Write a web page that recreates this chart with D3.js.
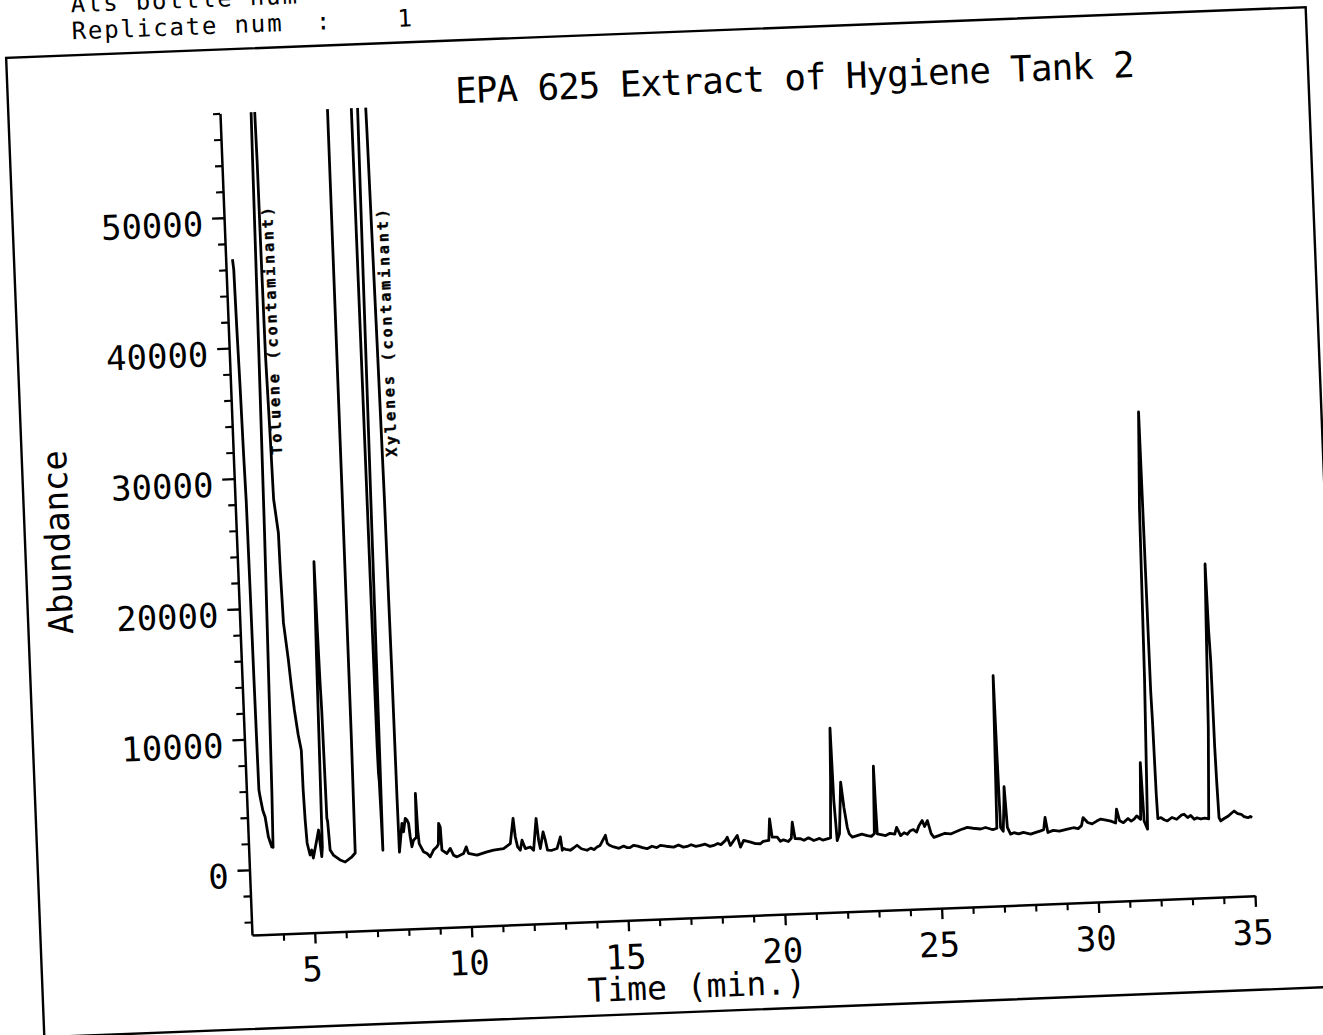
<!DOCTYPE html>
<html>
<head>
<meta charset="utf-8">
<script src="https://cdn.jsdelivr.net/npm/d3@7"></script>
<style>
html,body{margin:0;padding:0;background:#fff;overflow:hidden}
svg{display:block}
</style>
</head>
<body>
<svg id="chart" width="1323" height="1035"></svg>
<script>
// ---------------- data ----------------
const times = [
 3.217,3.245,3.27,3.30,3.33,3.355,3.37,3.38,3.39,3.40,3.43,3.50,3.565,3.645,3.74,3.78,
 3.81,3.85,3.90,3.94,3.98,4.00,4.05,4.10,4.125,4.135,4.15,4.20,4.23,4.34,4.355,4.39,4.50,4.56,4.63,4.72,4.80,4.81,4.836,4.87,4.95,
 5.01,5.05,5.18,5.25,5.32,5.35,5.40,5.437,5.46,5.48,5.50,5.53,5.55,5.595,5.69,5.90,6.06,6.28,6.39,
 6.41,6.42,6.43,6.45,7.17,7.19,7.20,7.21,7.22,7.23,7.245,7.26,7.275,7.29,7.32,7.36,7.39,7.41,7.63,7.65,7.66,7.72,7.76,7.77,7.78,7.785,7.79,7.80,
 7.915,7.955,8.026,8.08,8.125,8.162,8.204,8.263,8.36,8.38,8.41,8.44,8.567,8.68,8.774,8.888,9.00,9.05,9.082,9.13,9.156,9.311,9.423,9.519,9.625,9.84,9.935,9.995,
 10.265,10.588,10.801,11.122,11.342,11.46,11.509,11.57,11.652,11.719,11.813,11.975,12.076,12.193,12.248,12.292,12.399,12.462,12.52,12.662,12.824,12.944,12.99,
 13.034,13.1,13.246,13.35,13.466,13.6,13.778,13.9,14.0,14.101,14.2,14.381,14.43,14.5,14.63,14.8,14.95,15.057,15.15,15.27,
 15.4,15.55,15.693,15.85,16.0,16.121,16.3,16.54,16.7,16.85,16.971,17.1,17.25,17.396,17.55,17.7,17.82,17.95,18.05,18.20,
 18.26,18.35,18.579,18.67,18.78,19.0,19.15,19.311,19.4,19.58,19.63,19.69,19.852,19.95,20.05,20.2,20.30,20.349,20.42,20.592,
 20.7,20.85,21.014,21.2,21.3,21.444,21.55,21.62,21.668,21.70,21.76,21.84,21.94,22.013,22.096,22.15,22.25,22.40,22.55,22.723,
 22.85,22.95,23.003,23.024,23.044,23.31,23.45,23.60,23.667,23.785,23.9,24.0,24.10,24.2,24.3,24.381,24.49,24.56,24.655,24.76,
 24.844,25.0,25.2,25.381,25.55,25.7,25.921,26.1,26.344,26.5,26.662,26.75,26.86,26.93,26.95,26.98,27.06,27.12,27.14,27.17,
 27.196,27.29,27.4,27.55,27.7,27.93,28.1,28.25,28.35,28.408,28.48,28.65,28.85,29.107,29.3,29.45,29.56,29.619,29.76,29.9,
 30.05,30.182,30.35,30.5,30.65,30.695,30.78,30.9,31.05,31.15,31.243,31.33,31.45,31.51,31.56,31.66,31.75,31.80,31.89,31.91,
 31.93,31.95,31.98,32.00,32.10,32.2,32.30,32.45,32.6,32.75,32.84,32.95,33.05,33.16,33.25,33.37,33.5,33.62,33.72,33.78,
 33.82,33.85,33.88,33.90,33.92,33.95,34.00,34.1,34.25,34.35,34.44,34.55,34.66,34.75,34.87,34.95,35.00
];
// abundance; values above 58000 are off-scale (clipped at the top of the plot)
const abundance = [
 46800,46000,41400,37300,31700,28300,20700,14500,10000,6100,5550,4500,4000,2460,1680,1650,
 5800,14500,26000,39300,54000,60000,66000,60000,54000,46000,39250,32900,28300,25700,22650,18800,15960,14000,12100,10200,9000,5960,3650,1880,950,
 1330,710,2080,2840,790,1500,16000,23400,18000,14300,12000,3700,3500,1270,880,480,310,690,970,
 10000,30000,58000,66000,66000,58000,40000,20000,9000,7000,6400,4000,1100,8000,24900,45000,58000,66000,66000,58000,56100,40000,27900,20250,15130,10000,5000,900,
 3100,2450,3470,3340,3080,2050,1280,1780,2000,5360,2500,1500,860,720,450,960,1200,1400,2990,2700,930,660,1040,510,370,610,1110,600,
 440,660,770,870,1230,3140,1720,950,690,1450,800,910,650,3070,1400,760,2020,1380,610,590,710,1590,560,
 690,620,540,700,900,620,490,640,520,710,820,1580,960,800,660,540,700,570,560,730,
 650,520,430,600,480,640,560,470,620,440,480,600,460,520,600,420,480,620,520,830,
 1070,430,1170,270,770,620,500,470,640,700,2350,940,920,600,700,560,800,2020,750,730,
 600,780,560,700,560,640,700,5000,9110,3560,480,1000,4940,3015,1470,960,700,800,900,770,
 700,900,6070,2920,870,720,880,800,1320,670,880,760,1020,1100,900,1380,1760,1300,1740,730,
 440,560,720,650,800,940,1100,1020,940,1040,910,860,950,12650,7150,1000,700,3000,4110,2500,
 980,460,560,450,560,400,520,620,700,1630,470,620,540,670,760,680,900,1510,1120,1000,
 1200,1340,1250,1150,1000,2055,1150,1000,1300,1100,1240,1480,1200,5550,1070,430,12000,25000,32400,22000,
 11000,8700,3000,1200,1280,1100,1000,1250,1100,1400,1460,1200,1350,1050,1150,1050,1100,1030,8000,16000,
 20560,15500,13100,6500,3900,1100,840,1000,1200,1400,1560,1350,1290,1100,1010,1100,990
];
const xMajorTicks = [5, 10, 15, 20, 25, 30, 35];
const xMinorTicks = [4,6,7,8,9,11,12,13,14,16,17,18,19,21,22,23,24,26,27,28,29,31,32,33,34];
const yMajorTicks = [0, 10000, 20000, 30000, 40000, 50000];
const yMinorTicks = [-4000,-2000,2000,4000,6000,8000,12000,14000,16000,18000,22000,24000,26000,28000,
                     32000,34000,36000,38000,42000,44000,46000,48000,52000,54000,56000,58000];
const titleText = "EPA 625 Extract of Hygiene Tank 2";
const headerLines = ["Als bottle num", "Replicate num  :    1"];
const xLabel = "Time (min.)";
const yLabel = "Abundance";
const annotationLabels = ["Toluene (contaminant)", "Xylenes (contaminant)"];
const annotationTimes = [4.55, 8.21];
const annotationValues = [31700, 31200];

// ---------------- drawing ----------------
const FONT = "'DejaVu Sans Mono', 'Liberation Mono', monospace";
const svg = d3.select("#chart");
svg.append("rect").attr("width", 1323).attr("height", 1035).attr("fill", "#fff");

// the scanned sheet is tilted slightly: draw everything in a rotated frame
const g = svg.append("g").attr("transform", "translate(252,935) rotate(-2.233)");

const x = d3.scaleLinear().domain([3, 35]).range([0, 1003.8]);
const y = d3.scaleLinear().domain([-5000, 58000]).range([0, -822.2]);

svg.append("defs").append("clipPath").attr("id", "plotClip")
  .append("rect").attr("x", -3).attr("y", y(58000)).attr("width", 1012).attr("height", 900);

// outer frame of the printout
g.append("rect")
  .attr("x", -211.5).attr("y", -886).attr("width", 1300.5).attr("height", 980)
  .attr("fill", "none").attr("stroke", "#000").attr("stroke-width", 2.4);

// header lines (the first one is cut by the top edge of the scan)
headerLines.forEach((s, i) => {
  g.append("text")
    .attr("x", -145).attr("y", -929 + i * 27)
    .attr("font-family", FONT).attr("font-size", 24)
    .attr("letter-spacing", 1.85)
    .style("white-space", "pre")
    .attr("fill", "#000")
    .text(s);
});

// title
g.append("text")
  .attr("x", 236).attr("y", -823)
  .attr("font-family", FONT).attr("font-size", 36)
  .attr("textLength", 680).attr("lengthAdjust", "spacing")
  .attr("fill", "#000")
  .text(titleText);

function styleAxis(sel, w) {
  sel.attr("font-family", FONT).attr("font-size", 34);
  sel.select(".domain").attr("stroke", "#000").attr("stroke-width", 2.5);
  sel.selectAll(".tick line").attr("stroke", "#000").attr("stroke-width", w);
  sel.selectAll(".tick text").attr("fill", "#000");
}

// x axis
const xMaj = g.append("g")
  .call(d3.axisBottom(x).tickValues(xMajorTicks).tickSize(11).tickSizeOuter(0).tickFormat(d => String(d)));
styleAxis(xMaj, 2.3);
xMaj.selectAll(".tick text").attr("y", 48.5).attr("dy", null).attr("x", -4);
const xMin = g.append("g")
  .call(d3.axisBottom(x).tickValues(xMinorTicks).tickSize(7).tickSizeOuter(0).tickFormat(""));
xMin.select(".domain").remove();
styleAxis(xMin, 2.1);

// y axis
const yMaj = g.append("g")
  .call(d3.axisLeft(y).tickValues(yMajorTicks).tickSize(12).tickSizeOuter(0).tickFormat(d => String(d)));
styleAxis(yMaj, 2.3);
yMaj.selectAll(".tick text").attr("x", -21).attr("dy", null).attr("y", 17);
const yMin = g.append("g")
  .call(d3.axisLeft(y).tickValues(yMinorTicks).tickSize(7).tickSizeOuter(0).tickFormat(""));
yMin.select(".domain").remove();
styleAxis(yMin, 2.1);

// axis titles
g.append("text")
  .attr("x", x(17.1)).attr("y", 80)
  .attr("text-anchor", "middle")
  .attr("font-family", FONT).attr("font-size", 33)
  .attr("fill", "#000")
  .text(xLabel);
g.append("text")
  .attr("transform", "translate(-167,-400) rotate(-90)")
  .attr("text-anchor", "middle")
  .attr("font-family", FONT).attr("font-size", 34)
  .attr("fill", "#000")
  .text(yLabel);

// chromatogram trace
const pts = times.map((t, i) => [t, abundance[i]]);
g.append("path")
  .datum(pts)
  .attr("clip-path", "url(#plotClip)")
  .attr("fill", "none")
  .attr("stroke", "#000")
  .attr("stroke-width", 2.8)
  .attr("stroke-linejoin", "round")
  .attr("d", d3.line().x(d => x(d[0])).y(d => y(d[1])));

// peak annotations (vertical text)
annotationLabels.forEach((s, i) => {
  g.append("text")
    .attr("transform", `translate(${x(annotationTimes[i])},${y(annotationValues[i])}) rotate(-90)`)
    .attr("font-family", FONT).attr("font-size", 15).attr("font-weight", "bold")
    .attr("letter-spacing", 2.9)
    .attr("fill", "#000").attr("stroke", "#000").attr("stroke-width", 0.4)
    .text(s);
});
</script>
</body>
</html>
